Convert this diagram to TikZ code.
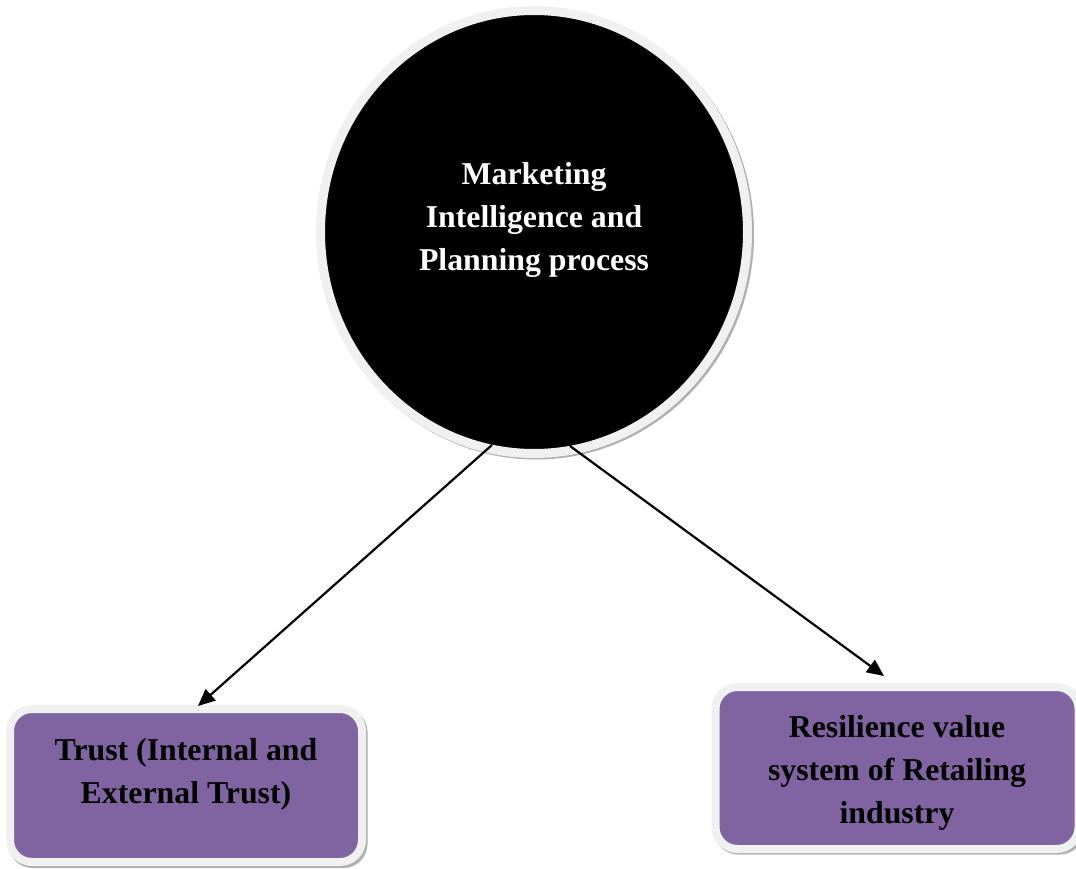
\documentclass[tikz,border=0pt]{standalone}
\usepackage{fontspec}
\setmainfont{Liberation Serif}
\usetikzlibrary{shapes.geometric,arrows.meta}
\definecolor{boxpurple}{RGB}{128,100,162}
\definecolor{ringgray}{RGB}{240,240,240}
\definecolor{shadowgray}{RGB}{175,175,180}
\tikzset{
  ringellipse/.style={ellipse, inner sep=0pt, outer sep=0pt, fill=black, draw=ringgray, line width=9pt},
  shadowellipse/.style={ellipse, inner sep=0pt, outer sep=0pt, fill=shadowgray},
  purplebox/.style={rectangle, rounded corners=22pt, inner sep=0pt, outer sep=0pt, fill=boxpurple, draw=ringgray, line width=8pt},
  shadowbox/.style={rectangle, rounded corners=24pt, inner sep=0pt, outer sep=0pt, fill=shadowgray},
  bigtext/.style={font=\fontsize{31.8pt}{43pt}\selectfont\bfseries, align=center, inner sep=0pt},
  conn/.style={line width=2.2pt, -{Triangle[length=17pt,width=15pt]}}
}
\begin{document}
\begin{tikzpicture}[x=1pt,y=-1pt]
\useasboundingbox[fill=white] (0,0) rectangle (1076,869);
% shadows
\node[shadowellipse, minimum width=436pt, minimum height=451pt] (cshadow) at (536,234) {};
\node[shadowbox, minimum width=359pt, minimum height=160pt] (lshadow) at (188,788) {};
\node[shadowbox, minimum width=370pt, minimum height=169pt] (rshadow) at (899,770) {};
% main shapes
\node[ringellipse, minimum width=427pt, minimum height=443pt] (circ) at (534,232) {};
\node[purplebox, minimum width=352pt, minimum height=153pt] (lbox) at (186,785.5) {};
\node[purplebox, minimum width=363pt, minimum height=162pt] (rbox) at (897,768) {};
% texts
\node[bigtext, text=white] (ctext) at (534,220) {Marketing\\Intelligence and\\Planning process};
\node[bigtext, text=black] (ltext) at (186,774) {Trust (Internal and\\External Trust)};
\node[bigtext, text=black] (rtext) at (897,772.5) {Resilience value\\system of Retailing\\industry};
% connector ends
\coordinate (s1) at (492,445);
\coordinate (s2) at (570,446);
\coordinate (t1) at (198,706);
\coordinate (t2) at (884,676);
\draw[conn] (s1) -- (t1);
\draw[conn] (s2) -- (t2);
\end{tikzpicture}
\end{document}
